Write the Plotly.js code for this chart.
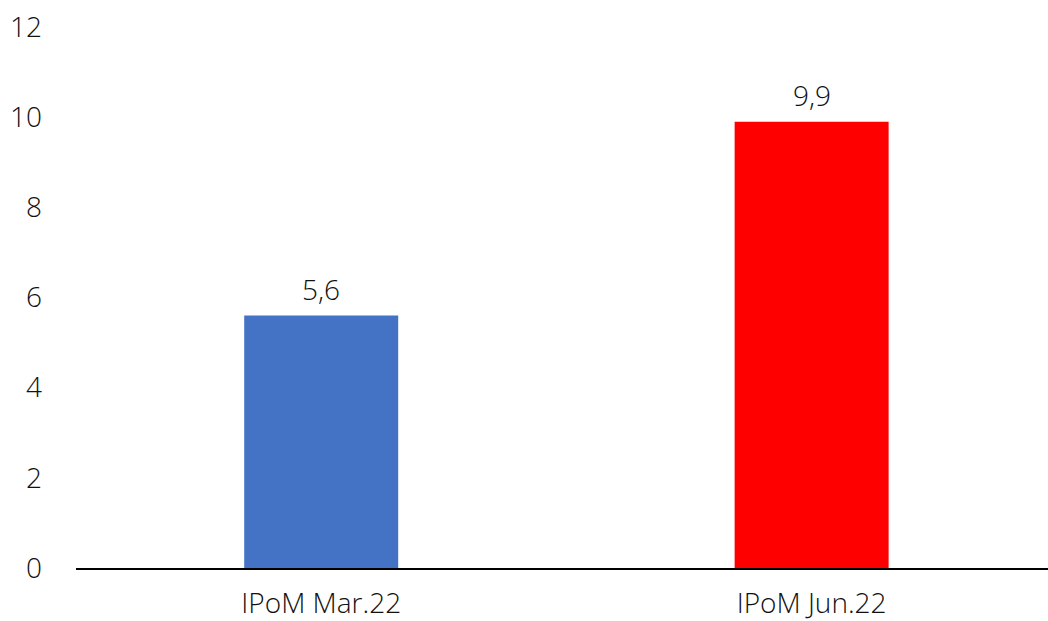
<!DOCTYPE html>
<html><head><meta charset="utf-8">
<script src="https://cdn.plot.ly/plotly-3.0.1.min.js"></script>
<style>html,body{margin:0;padding:0;background:#fff}</style>
</head><body>
<div id="chart" style="width:1048px;height:621px"></div>
<script>
const categories = ["IPoM Mar.22", "IPoM Jun.22"];
const values = [5.6, 9.9];
const barColors = ["#4472C4", "#FF0000"];
const labels = ["5,6", "9,9"];

const FONT = "Open Sans, Noto Sans, sans-serif";
const TXT = {family: FONT, size: 28, color: "#111111", weight: 300};

const trace = {
  type: "bar",
  x: categories,
  y: values,
  width: 0.314,
  marker: {color: barColors},
  hoverinfo: "none"
};

const annotations = categories.map((c, i) => ({
  x: c, y: values[i], xref: "x", yref: "y",
  text: labels[i], showarrow: false,
  yanchor: "bottom", yshift: 6,
  font: TXT
}));

const layout = {
  width: 1048, height: 621,
  margin: {l: 76, r: 0, t: 27, b: 53},
  paper_bgcolor: "#fff", plot_bgcolor: "#fff",
  showlegend: false,
  font: TXT,
  annotations: annotations,
  xaxis: {
    type: "category",
    range: [-0.5, 1.482],
    showgrid: false, zeroline: false,
    showline: true, linecolor: "#000", linewidth: 2,
    ticks: "", ticklabelstandoff: 9,
    tickfont: TXT
  },
  yaxis: {
    range: [0, 12],
    tickvals: [0, 2, 4, 6, 8, 10, 12],
    showgrid: false, zeroline: false, showline: false,
    ticks: "", ticklabelstandoff: 33,
    tickfont: TXT
  }
};

Plotly.newPlot("chart", [trace], layout, {displayModeBar: false, staticPlot: true});
</script>
</body></html>
